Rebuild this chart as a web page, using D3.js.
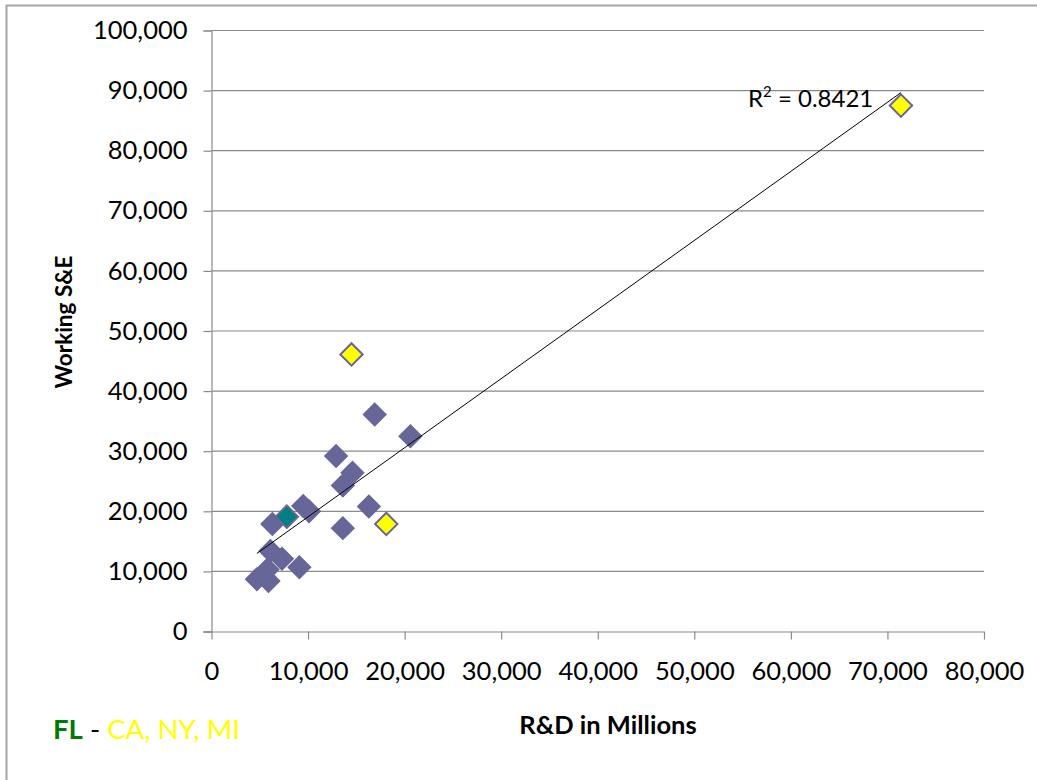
<!DOCTYPE html>
<html>
<head>
<meta charset="utf-8">
<script src="https://cdn.jsdelivr.net/npm/d3@7"></script>
<style>
  html, body { margin: 0; padding: 0; background: #fff; }
  svg { display: block; font-family: Lato, "Open Sans", sans-serif; }
</style>
</head>
<body>
<svg id="chart" width="1037" height="780"></svg>
<script>
// ---- data (R&D in millions vs working S&E) ----
const otherRD = [16900, 20600, 12900, 14600, 13600, 9500, 10100, 16300, 6300, 13600, 6100, 7300, 9100, 5800, 4700, 5900];
const otherSE = [36100, 32500, 29200, 26400, 24300, 20900, 20000, 20800, 17900, 17200, 13400, 12100, 10700, 10300, 8700, 8400];
const flRD = [7800];
const flSE = [19100];
const bigRD = [14500, 18100, 71400];   // CA, NY, MI
const bigSE = [46100, 17900, 87500];
const xTicks = [0, 10000, 20000, 30000, 40000, 50000, 60000, 70000, 80000];
const yTicks = [0, 10000, 20000, 30000, 40000, 50000, 60000, 70000, 80000, 90000, 100000];
const rSquaredText = "0.8421";
const xTitle = "R&D in Millions";
const yTitle = "Working S&E";

const svg = d3.select("#chart");
const fmt = d3.format(",");

// outer frame
svg.append("rect")
  .attr("x", 6.5).attr("y", 5.5).attr("width", 1100).attr("height", 900)
  .attr("fill", "none").attr("stroke", "#a6a6a6").attr("stroke-width", 2);

const x = d3.scaleLinear().domain([0, 80000]).range([211.5, 984]);
const y = d3.scaleLinear().domain([0, 100000]).range([631.5, 30.5]);

const axisColor = "#8a8a8a";

// gridlines
svg.append("g").selectAll("line").data(yTicks.filter(d => d > 0)).join("line")
  .attr("x1", x(0)).attr("x2", x(80000))
  .attr("y1", d => y(d)).attr("y2", d => y(d))
  .attr("stroke", axisColor).attr("stroke-width", 1.2);

// y axis
const yAxis = svg.append("g").attr("transform", `translate(${x(0)},0)`)
  .call(d3.axisLeft(y).tickValues(yTicks).tickFormat(fmt).tickSize(8).tickPadding(16));
// x axis
const xAxis = svg.append("g").attr("transform", `translate(0,${y(0)})`)
  .call(d3.axisBottom(x).tickValues(xTicks).tickFormat(fmt).tickSize(8).tickPadding(22));

[yAxis, xAxis].forEach(g => {
  g.select(".domain").attr("stroke", axisColor).attr("stroke-width", 1.2);
  g.selectAll(".tick line").attr("stroke", axisColor).attr("stroke-width", 1.2);
  g.selectAll(".tick text").attr("fill", "#000").style("font-size", "25.5px")
    .style("font-family", "Lato, 'Open Sans', sans-serif");
});
xAxis.select(".domain").attr("d", `M${x(0) - 8},0.5H${x(80000)}`);

// markers
const diamond = d3.symbol().type(d3.symbolSquare).size(250);
function drawSeries(xs, ys, fill, stroke, sw) {
  svg.append("g").selectAll("path").data(xs.map((v, i) => [v, ys[i]])).join("path")
    .attr("d", diamond)
    .attr("transform", d => `translate(${x(d[0])},${y(d[1])}) rotate(45)`)
    .attr("fill", fill).attr("stroke", stroke).attr("stroke-width", sw);
}
drawSeries(otherRD, otherSE, "#666699", "#666699", 1.5);
drawSeries(flRD, flSE, "#008080", "#666699", 2);
drawSeries(bigRD, bigSE, "#ffff00", "#666699", 2);

// linear trendline across all points
const allX = otherRD.concat(flRD, bigRD);
const allY = otherSE.concat(flSE, bigSE);
const mx = d3.mean(allX), my = d3.mean(allY);
let sxy = 0, sxx = 0;
allX.forEach((v, i) => { sxy += (v - mx) * (allY[i] - my); sxx += (v - mx) * (v - mx); });
const slope = sxy / sxx, intercept = my - slope * mx;
const [x0, x1] = d3.extent(allX);
svg.append("line")
  .attr("x1", x(x0)).attr("y1", y(intercept + slope * x0))
  .attr("x2", x(x1)).attr("y2", y(intercept + slope * x1))
  .attr("stroke", "#000").attr("stroke-width", 1);

// R² label
const rl = svg.append("text").attr("x", 748).attr("y", 107)
  .style("font-size", "24px").attr("fill", "#000");
rl.append("tspan").text("R");
rl.append("tspan").attr("dy", -10).style("font-size", "15px").text("2");
rl.append("tspan").attr("dy", 10).text(" = " + rSquaredText);

// axis titles
svg.append("text").attr("x", 608).attr("y", 734).attr("text-anchor", "middle")
  .style("font-size", "25.5px").style("font-weight", "bold").text(xTitle);
svg.append("text").attr("transform", "translate(72,322) rotate(-90)").attr("text-anchor", "middle")
  .style("font-size", "22.5px").style("font-weight", "bold").text(yTitle);

// legend note
const note = svg.append("text").attr("x", 53).attr("y", 739).style("font-size", "27.5px");
note.append("tspan").attr("fill", "#007a00").style("font-weight", "bold").text("FL");
note.append("tspan").attr("fill", "#000").text(" - ");
note.append("tspan").attr("fill", "#ffff00").text("CA, NY, MI");
</script>
</body>
</html>
